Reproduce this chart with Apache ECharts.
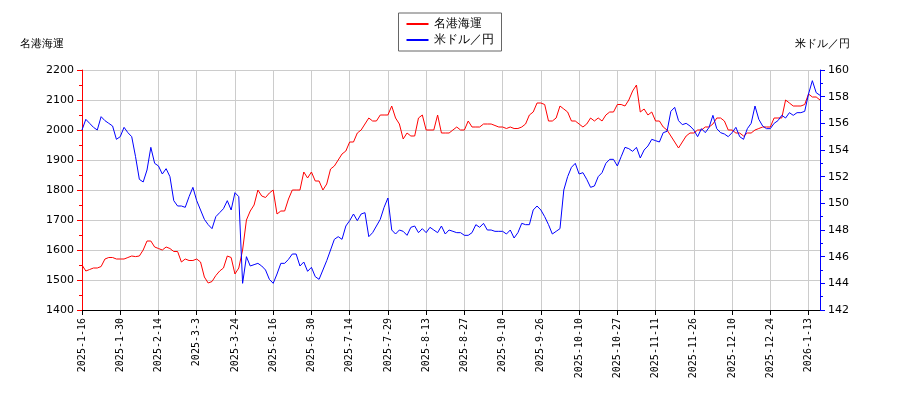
<!DOCTYPE html>
<html><head><meta charset="utf-8">
<script src="https://cdn.jsdelivr.net/npm/echarts@6/dist/echarts.min.js"></script>
<style>html,body{margin:0;padding:0;background:#fff}#c{width:900px;height:400px}</style>
</head><body><div id="c"></div>
<script>
const tickLabels=['2025-1-16','2025-1-30','2025-2-14','2025-3-3','2025-3-24','2025-6-16','2025-6-30','2025-7-14','2025-7-29','2025-8-13','2025-8-27','2025-9-10','2025-9-26','2025-10-10','2025-10-27','2025-11-11','2025-11-26','2025-12-10','2025-12-24','2026-1-13'];
const stock=[1550,1530,1535,1540,1540,1545,1570,1575,1575,1570,
1570,1570,1575,1580,1578,1580,1600,1630,1630,1610,
1605,1600,1610,1605,1595,1595,1560,1570,1565,1565,
1570,1560,1510,1490,1495,1515,1530,1540,1580,1575,
1520,1540,1600,1700,1730,1750,1800,1780,1775,1790,
1800,1720,1730,1730,1770,1800,1800,1800,1860,1840,
1860,1830,1830,1800,1820,1870,1880,1900,1920,1930,
1960,1960,1990,2000,2020,2040,2030,2030,2050,2050,
2050,2080,2040,2020,1970,1990,1980,1980,2040,2050,
2000,2000,2000,2050,1990,1990,1990,2000,2010,2000,
2000,2030,2010,2010,2010,2020,2020,2020,2015,2010,
2010,2005,2010,2005,2005,2010,2020,2050,2060,2090,
2090,2085,2030,2030,2040,2080,2070,2060,2030,2030,
2020,2010,2020,2040,2030,2040,2030,2050,2060,2060,
2085,2085,2080,2100,2130,2150,2060,2070,2050,2060,
2030,2030,2010,2000,1980,1960,1940,1960,1980,1990,
1990,2000,2000,2010,2010,2020,2040,2040,2030,2000,
2000,1990,1990,1980,1990,1990,2000,2005,2010,2010,
2010,2040,2040,2040,2100,2090,2080,2080,2080,2085,
2120,2110,2110,2100];
const usdjpy=[155.5,156.3,156,155.7,155.5,156.5,156.2,156,155.8,154.8,
155,155.7,155.3,155,153.5,151.8,151.6,152.5,154.2,153,
152.8,152.2,152.6,152,150.2,149.8,149.8,149.7,150.5,151.2,
150.2,149.5,148.8,148.4,148.1,149,149.3,149.6,150.2,149.5,
150.8,150.5,144,146,145.3,145.4,145.5,145.3,145,144.3,
144,144.7,145.5,145.5,145.8,146.2,146.2,145.3,145.6,144.9,
145.2,144.5,144.3,145,145.7,146.5,147.3,147.5,147.3,148.3,
148.7,149.2,148.7,149.2,149.3,147.5,147.8,148.3,148.8,149.7,
150.4,148,147.7,148,147.9,147.6,148.2,148.3,147.8,148.1,
147.8,148.2,148,147.8,148.3,147.7,148,147.9,147.8,147.8,
147.6,147.6,147.8,148.4,148.2,148.5,148,148,147.9,147.9,
147.9,147.7,148,147.4,147.8,148.5,148.4,148.4,149.5,149.8,
149.5,149,148.4,147.7,147.9,148.1,151,152,152.7,153,
152.2,152.3,151.8,151.2,151.3,152,152.3,153,153.3,153.3,
152.8,153.5,154.2,154.1,153.9,154.2,153.4,154,154.3,154.8,
154.7,154.6,155.3,155.4,156.9,157.2,156.2,155.9,156,155.8,
155.5,155,155.6,155.3,155.7,156.6,155.6,155.3,155.2,155,
155.3,155.7,155,154.8,155.6,156,157.3,156.3,155.8,155.6,
155.6,156,156.2,156.6,156.4,156.8,156.6,156.8,156.8,156.9,
158.2,159.2,158.3,158.1];
const cats=stock.map((_,i)=>String(i));
const isTick=(i)=>i%10===0;
const chart=echarts.init(document.getElementById('c'));
const font="'DejaVu Sans', sans-serif";
chart.setOption({
  animation:false,
  textStyle:{fontFamily:font},
  graphic:[
    {type:'text',left:20,top:39,style:{text:'名港海運',fontSize:11,fill:'#000',fontFamily:font}},
    {type:'text',right:50,top:39,style:{text:'米ドル／円',fontSize:11,fill:'#000',fontFamily:font}}
  ],
  legend:{top:13,left:'center',orient:'vertical',data:['名港海運','米ドル／円'],
    borderColor:'#666',borderWidth:1,padding:[5,8],itemGap:4,itemWidth:22,itemHeight:2,
    textStyle:{fontSize:12,color:'#000'},icon:'rect'},
  grid:{left:82,right:80,top:70,bottom:90},
  xAxis:{type:'category',data:cats,boundaryGap:false,
    axisLine:{lineStyle:{color:'#000'}},
    axisTick:{interval:(i)=>isTick(i),length:5,lineStyle:{color:'#000'}},
    splitLine:{show:true,interval:(i)=>isTick(i),lineStyle:{color:'#ccc'}},
    axisLabel:{interval:(i)=>isTick(i),rotate:90,fontSize:10,color:'#000',fontFamily:'DejaVu Sans Mono, monospace',
      formatter:(v,i)=>tickLabels[i/10]||''}},
  yAxis:[
    {type:'value',min:1400,max:2200,interval:100,position:'left',
     axisLine:{show:true,lineStyle:{color:'red'}},axisTick:{show:true,length:5,lineStyle:{color:'red'}},
     minorTick:{show:true,splitNumber:2,length:3,lineStyle:{color:'red'}},
     axisLabel:{color:'#000',fontSize:11,formatter:(v)=>String(v)},splitLine:{lineStyle:{color:'#ccc'}}},
    {type:'value',min:142,max:160,interval:2,position:'right',
     axisLine:{show:true,lineStyle:{color:'blue'}},axisTick:{show:true,length:5,lineStyle:{color:'blue'}},
     minorTick:{show:true,splitNumber:2,length:3,lineStyle:{color:'blue'}},
     axisLabel:{color:'#000',fontSize:11,formatter:(v)=>String(v)},splitLine:{show:false}}
  ],
  series:[
    {name:'名港海運',type:'line',data:stock,yAxisIndex:0,symbol:'none',lineStyle:{color:'red',width:1},itemStyle:{color:'red'}},
    {name:'米ドル／円',type:'line',data:usdjpy,yAxisIndex:1,symbol:'none',lineStyle:{color:'blue',width:1},itemStyle:{color:'blue'}}
  ]
});
</script></body></html>
